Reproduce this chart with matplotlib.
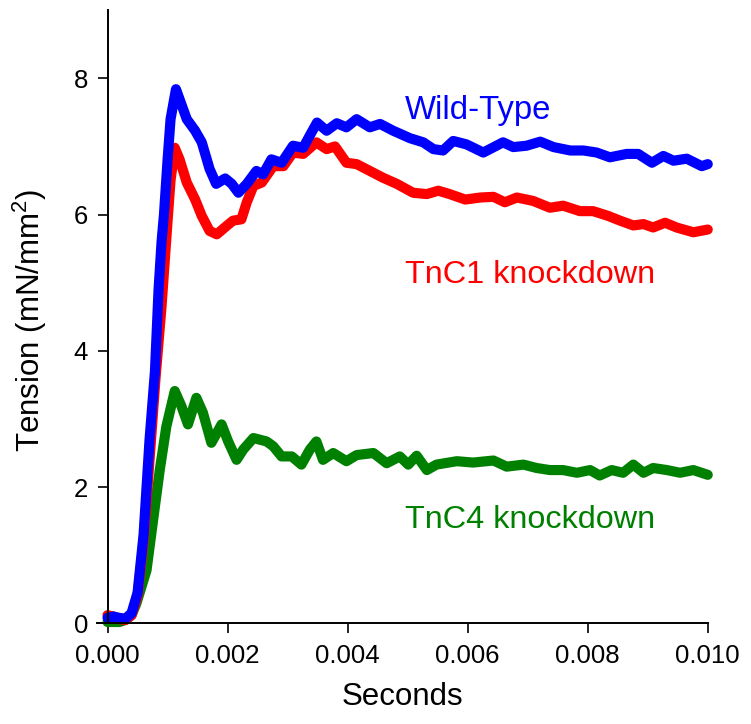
import matplotlib
matplotlib.use("Agg")
import matplotlib.pyplot as plt
from matplotlib.ticker import FormatStrFormatter

plt.rcParams['font.family'] = ['Liberation Sans', 'DejaVu Sans']
plt.rcParams['mathtext.fontset'] = 'custom'
plt.rcParams['mathtext.rm'] = 'Liberation Sans'
plt.rcParams['mathtext.default'] = 'regular'

# Wild-Type trace (seconds, mN/mm^2)
wt_t = [0.0, 0.0001, 0.0002, 0.0003, 0.0004, 0.0005, 0.0006, 0.00065, 0.0007,
        0.00079, 0.00085, 0.0009, 0.00094, 0.001, 0.00105, 0.00114, 0.00132,
        0.00146, 0.00157, 0.0017, 0.00181, 0.00196, 0.00207, 0.00218, 0.00232,
        0.00248, 0.00259, 0.00273, 0.0029, 0.00309, 0.00326, 0.00337, 0.00349,
        0.00365, 0.00382, 0.00398, 0.00415, 0.00437, 0.00454, 0.00476, 0.00504,
        0.00526, 0.00543, 0.00559, 0.00576, 0.00598, 0.00626, 0.00659, 0.00676,
        0.00698, 0.00721, 0.00743, 0.00771, 0.00793, 0.00815, 0.00837, 0.00865,
        0.00884, 0.00907, 0.00926, 0.00943, 0.00965, 0.0099, 0.0100]
wt_y = [0.08, 0.1, 0.08, 0.07, 0.15, 0.45, 1.3, 2.0, 2.7,
        3.7, 4.9, 5.6, 6.0, 6.8, 7.4, 7.84, 7.40,
        7.23, 7.06, 6.67, 6.45, 6.53, 6.45, 6.32, 6.45,
        6.64, 6.59, 6.81, 6.76, 7.01, 6.98, 7.16, 7.35,
        7.23, 7.34, 7.28, 7.40, 7.28, 7.33, 7.23, 7.12,
        7.06, 6.96, 6.94, 7.08, 7.03, 6.91, 7.06, 6.99,
        7.01, 7.07, 6.99, 6.94, 6.94, 6.91, 6.84, 6.89,
        6.89, 6.76, 6.86, 6.79, 6.82, 6.71, 6.74]

# TnC1 knockdown trace
c1_t = [0.0, 0.0001, 0.0002, 0.0003, 0.0004, 0.0005, 0.0006, 0.0007, 0.0008,
        0.0009, 0.001, 0.00105, 0.00112, 0.0012, 0.00132, 0.00146, 0.00157,
        0.0017, 0.00182, 0.00198, 0.00209, 0.00223, 0.00232, 0.00243, 0.00257,
        0.00265, 0.00276, 0.00293, 0.00309, 0.00326, 0.00348, 0.00365, 0.00379,
        0.00398, 0.00415, 0.00437, 0.00459, 0.00482, 0.00509, 0.00532, 0.00551,
        0.0057, 0.00596, 0.00621, 0.00643, 0.00662, 0.00682, 0.00709, 0.00737,
        0.00759, 0.00787, 0.00809, 0.00834, 0.00854, 0.00876, 0.00893, 0.00909,
        0.00929, 0.00948, 0.00976, 0.0100]
c1_y = [0.12, 0.1, 0.06, 0.05, 0.12, 0.4, 1.2, 2.4, 3.6,
        4.65, 5.9, 6.5, 6.98, 6.81, 6.47, 6.22, 5.98,
        5.76, 5.71, 5.83, 5.91, 5.93, 6.18, 6.42, 6.47,
        6.57, 6.71, 6.71, 6.91, 6.89, 7.06, 6.96, 7.00,
        6.76, 6.74, 6.64, 6.54, 6.45, 6.32, 6.30, 6.35,
        6.30, 6.22, 6.25, 6.26, 6.18, 6.25, 6.20, 6.10,
        6.13, 6.05, 6.05, 5.98, 5.91, 5.84, 5.86, 5.81,
        5.88, 5.81, 5.74, 5.78]

# TnC4 knockdown trace
c4_t = [0.0, 0.0001, 0.0002, 0.0003, 0.0004, 0.00048, 0.00065, 0.00076, 0.00087,
        0.00098, 0.00112, 0.00123, 0.00134, 0.00148, 0.00159, 0.00173, 0.0019,
        0.00201, 0.00215, 0.00226, 0.00243, 0.00265, 0.00276, 0.0029, 0.00307,
        0.00323, 0.00337, 0.00348, 0.00359, 0.00376, 0.00398, 0.00415, 0.00443,
        0.00465, 0.00487, 0.00501, 0.00515, 0.00532, 0.00548, 0.00582, 0.00609,
        0.00643, 0.00665, 0.00693, 0.00715, 0.00737, 0.00759, 0.00782, 0.00804,
        0.0082, 0.0084, 0.00859, 0.00876, 0.00893, 0.00909, 0.00932, 0.00954,
        0.00976, 0.0100]
c4_y = [0.02, 0.02, 0.02, 0.05, 0.12, 0.29, 0.78, 1.52, 2.25,
        2.89, 3.41, 3.19, 2.92, 3.31, 3.09, 2.65, 2.92,
        2.67, 2.40, 2.55, 2.72, 2.67, 2.60, 2.45, 2.45,
        2.33, 2.55, 2.67, 2.40, 2.50, 2.38, 2.47, 2.50,
        2.35, 2.45, 2.33, 2.46, 2.25, 2.33, 2.38, 2.36,
        2.39, 2.30, 2.33, 2.28, 2.25, 2.25, 2.21, 2.25,
        2.17, 2.25, 2.21, 2.33, 2.21, 2.28, 2.25, 2.21,
        2.25, 2.18]

x_ticks = [0.0, 0.002, 0.004, 0.006, 0.008, 0.010]
y_ticks = [0, 2, 4, 6, 8]

fig = plt.figure(figsize=(7.51, 7.24), dpi=100)
ax = fig.add_axes([0.1288, 0.139, 0.8136, 0.847])

lw = 7.3
ax.plot(c4_t, c4_y, color='#008000', lw=lw, solid_capstyle='round', solid_joinstyle='round', clip_on=False)
ax.plot(c1_t, c1_y, color='#ff0000', lw=lw, solid_capstyle='round', solid_joinstyle='round', clip_on=False)
ax.plot(wt_t, wt_y, color='#0000ff', lw=lw, solid_capstyle='round', solid_joinstyle='round', clip_on=False)

# curve labels
ax.text(0.00495, 7.40, 'Wild-Type', color='#0000ff', fontsize=23.7)
ax.text(0.00495, 5.00, 'TnC1 knockdown', color='#ff0000', fontsize=23.3)
ax.text(0.00495, 1.40, 'TnC4 knockdown', color='#008000', fontsize=23.3)

ax.set_xlim(-0.00018, 0.010)
ax.set_ylim(0, 9.0)
ax.set_xticks(x_ticks)
ax.set_yticks(y_ticks)
ax.xaxis.set_major_formatter(FormatStrFormatter('%.3f'))

for side in ['top', 'right']:
    ax.spines[side].set_visible(False)
ax.spines['left'].set_position(('data', 0))
for side in ['left', 'bottom']:
    ax.spines[side].set_linewidth(1.4)
ax.tick_params(length=7, width=1.2, labelsize=18.5, pad=7)
ax.tick_params(axis='x', pad=8)

ax.set_xlabel('Seconds', fontsize=22.5)
ax.set_ylabel('Tension (mN/mm$^{2}$)', fontsize=22.5, va='center')
ax.xaxis.set_label_coords(0.5, -0.095)
ax.yaxis.set_label_coords(-0.109, 0.495)

fig.savefig('out.png', dpi=100)
